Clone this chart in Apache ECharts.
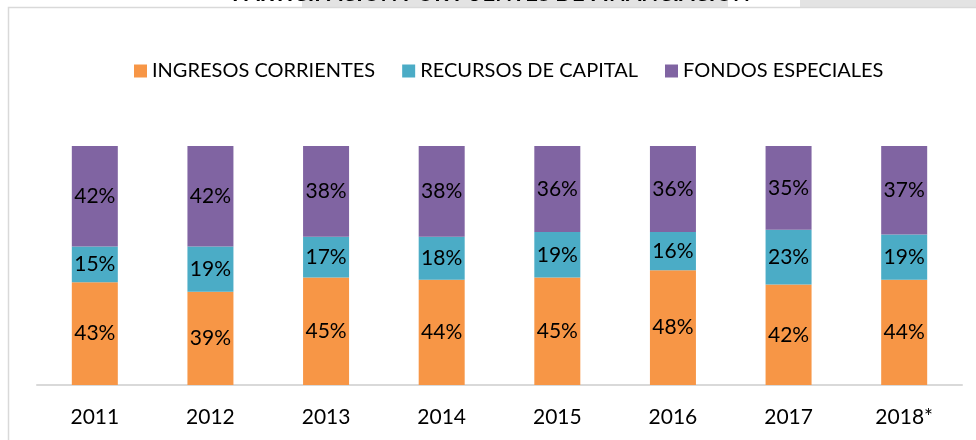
<!DOCTYPE html>
<html>
<head>
<meta charset="utf-8">
<script src="https://cdn.jsdelivr.net/npm/echarts@6/dist/echarts.min.js"></script>
<style>
  html, body { margin: 0; padding: 0; background: #fff; }
  #chart { width: 976px; height: 440px; }
</style>
</head>
<body>
<div id="chart"></div>
<script>
// years on the x axis
const years = ["2011", "2012", "2013", "2014", "2015", "2016", "2017", "2018*"];
// share of each source, in %
const ingresosCorrientes = [43, 39, 45, 44, 45, 48, 42, 44];
const recursosCapital = [15, 19, 17, 18, 19, 16, 23, 19];
const fondosEspeciales = [42, 42, 38, 38, 36, 36, 35, 37];
const seriesNames = ["INGRESOS CORRIENTES", "RECURSOS DE CAPITAL", "FONDOS ESPECIALES"];
const titleText = "PARTICIPACIÓN POR FUENTES DE FINANCIACIÓN";

const font = "Lato, 'Open Sans', sans-serif";
const colors = ["#F79646", "#4BACC6", "#8064A2"];

function makeSeries(name, data, color) {
  return {
    name: name,
    type: "bar",
    stack: "total",
    barWidth: 46,
    data: data,
    itemStyle: { color: color },
    label: {
      show: true,
      position: "inside",
      formatter: "{c}%",
      color: "#000",
      fontFamily: font,
      fontSize: 21,
    },
  };
}

var chart = echarts.init(document.getElementById("chart"));
var option = {
  animation: false,
  color: colors,
  graphic: [
    { type: "rect", shape: { x: 302, y: 0, width: 426, height: 7 }, style: { fill: "#e3e3e3" } },
    { type: "rect", shape: { x: 800, y: 0, width: 176, height: 7 }, style: { fill: "#e3e3e3" } },
    {
      type: "text",
      x: 491,
      y: 5,
      style: {
        text: titleText,
        fill: "#000",
        font: "bold 22px " + font,
        textAlign: "center",
        textVerticalAlign: "bottom",
      },
    },
    {
      type: "rect",
      shape: { x: 8.5, y: 7.5, width: 1000, height: 500 },
      style: { fill: "none", stroke: "#d9d9d9", lineWidth: 1.5 },
    },
  ],
  legend: {
    top: 56,
    left: 129,
    itemWidth: 13,
    itemHeight: 13,
    itemGap: 27,
    icon: "rect",
    textStyle: { color: "#000", fontFamily: font, fontSize: 20 },
    data: seriesNames,
  },
  grid: { left: 37, right: 14, top: 146, bottom: 55 },
  xAxis: {
    type: "category",
    data: years,
    axisLine: { lineStyle: { color: "#d9d9d9", width: 2 } },
    axisTick: { show: false },
    axisLabel: { color: "#000", fontFamily: font, fontSize: 21, margin: 22 },
  },
  yAxis: {
    type: "value",
    min: 0,
    max: 100,
    show: false,
    splitLine: { show: false },
  },
  series: [
    makeSeries(seriesNames[0], ingresosCorrientes, colors[0]),
    makeSeries(seriesNames[1], recursosCapital, colors[1]),
    makeSeries(seriesNames[2], fondosEspeciales, colors[2]),
  ],
};
chart.setOption(option);
</script>
</body>
</html>
